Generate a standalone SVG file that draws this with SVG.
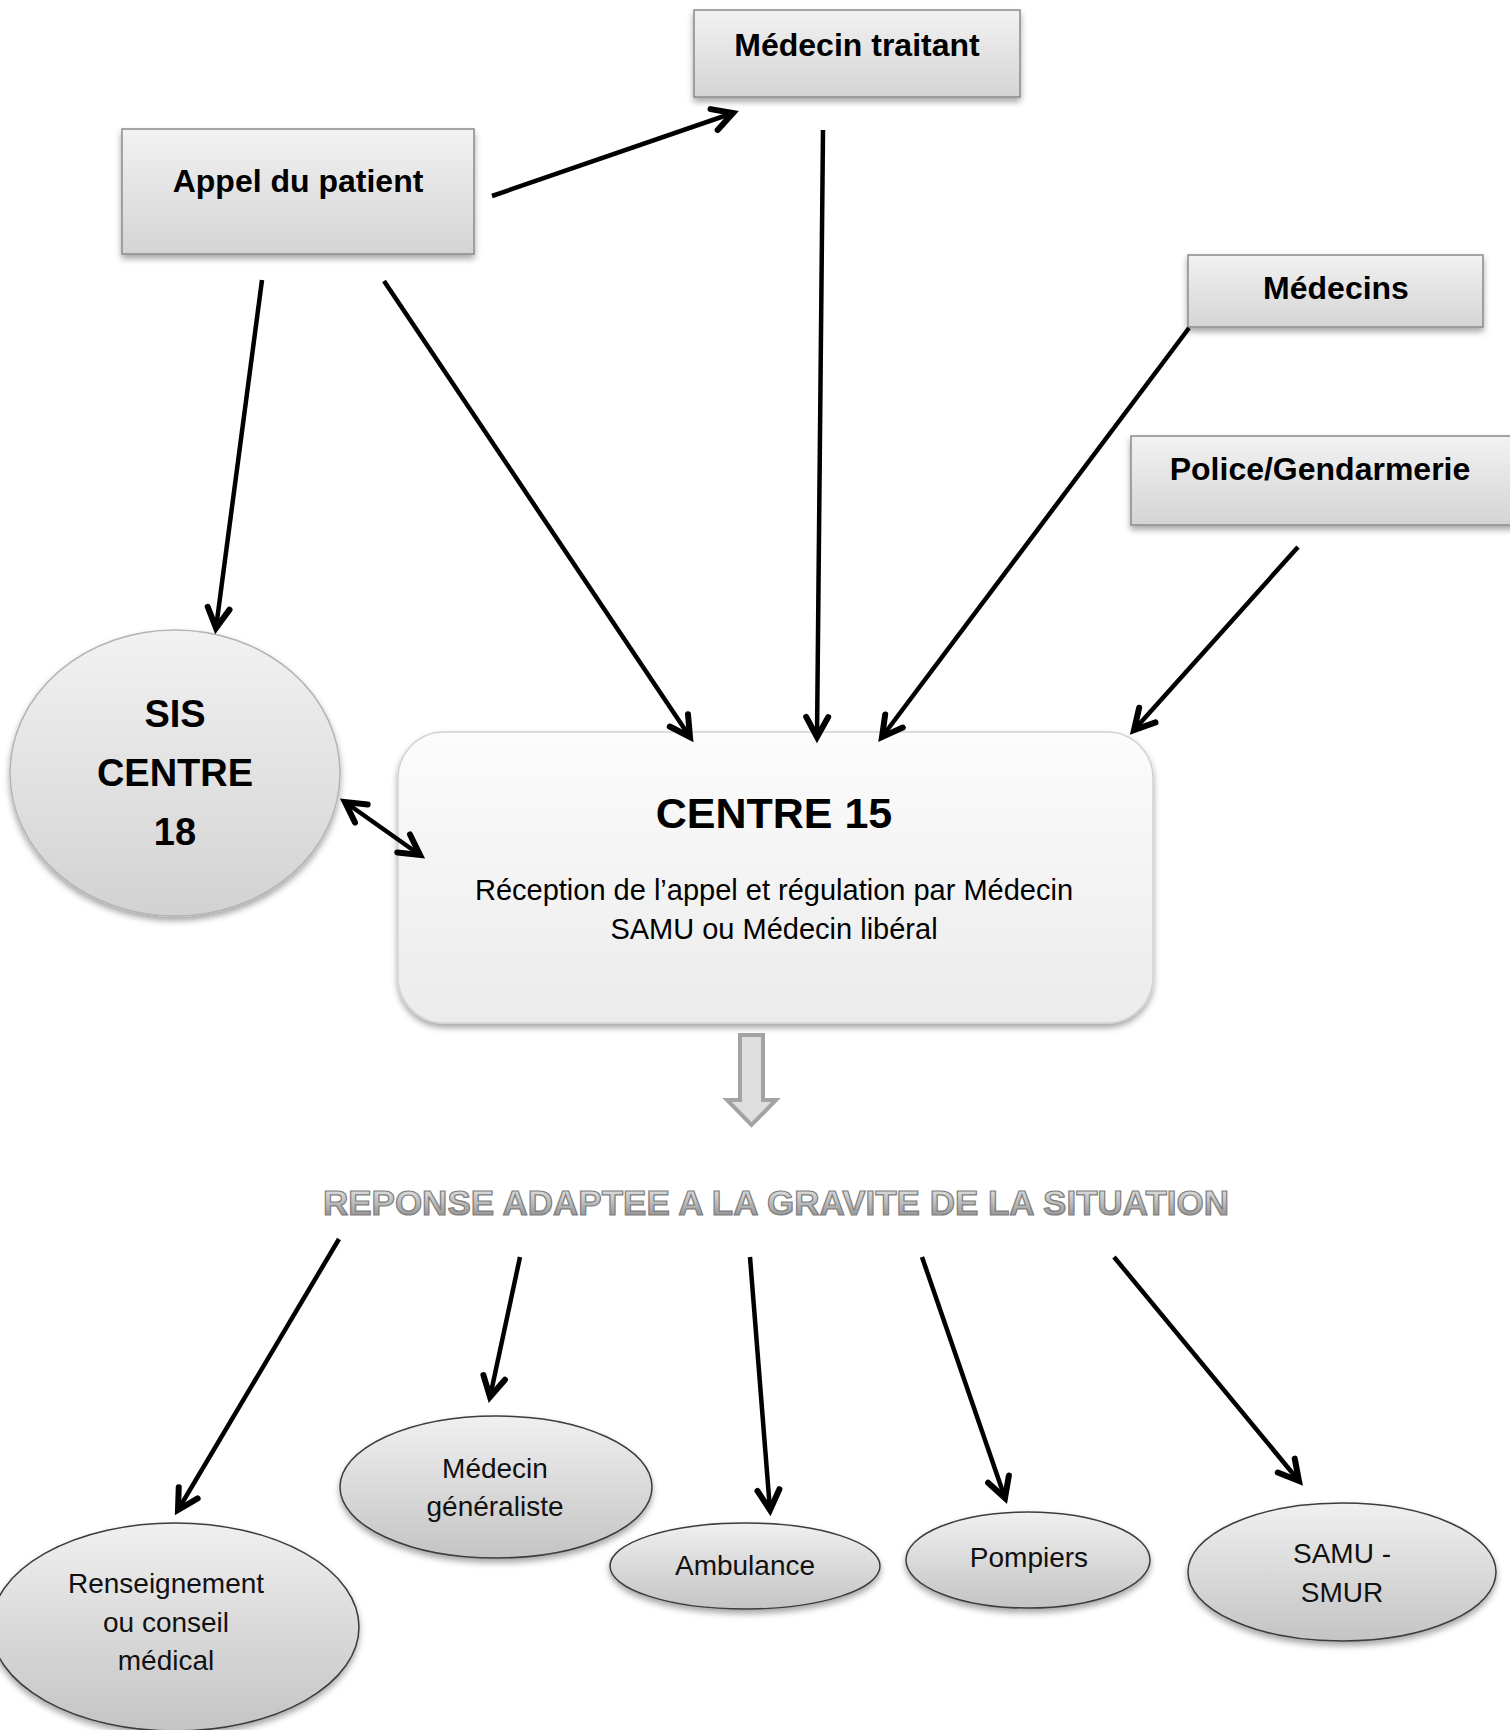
<svg xmlns="http://www.w3.org/2000/svg" width="1510" height="1730" viewBox="0 0 1510 1730">
<style>
.box{stroke:#8a8a8a;stroke-width:1.5;fill:url(#gBox);filter:url(#sh)}
.ell{stroke:#3c3c3c;stroke-width:1.5;fill:url(#gEll);filter:url(#sh)}
.bt{font-family:"Liberation Sans",Arial,sans-serif;font-weight:bold;font-size:32px;fill:#000;text-anchor:middle}
.rt{font-family:"Liberation Sans",Arial,sans-serif;font-size:28px;fill:#111;text-anchor:middle}
.conn line{stroke:#000;stroke-width:4.5;marker-end:url(#ah)}
</style>
<defs>
<linearGradient id="gBox" x1="0" y1="0" x2="0" y2="1"><stop offset="0" stop-color="#f2f2f2"/><stop offset="1" stop-color="#d4d4d4"/></linearGradient>
<linearGradient id="gEll" x1="0" y1="0" x2="0" y2="1"><stop offset="0" stop-color="#f0f0f0"/><stop offset="1" stop-color="#c4c4c4"/></linearGradient>
<linearGradient id="gSis" x1="0" y1="0" x2="0" y2="1"><stop offset="0" stop-color="#f2f2f2"/><stop offset="1" stop-color="#d2d2d2"/></linearGradient>
<linearGradient id="gC15" x1="0" y1="0" x2="0" y2="1"><stop offset="0" stop-color="#fcfcfc"/><stop offset="1" stop-color="#ebebeb"/></linearGradient>
<linearGradient id="gTxt" x1="0" y1="0" x2="0" y2="1"><stop offset="0" stop-color="#eeeeee"/><stop offset="0.5" stop-color="#bdbdbd"/><stop offset="1" stop-color="#828282"/></linearGradient>
<filter id="sh" x="-10%" y="-10%" width="120%" height="130%"><feDropShadow dx="0" dy="4" stdDeviation="3" flood-color="#000" flood-opacity="0.35"/></filter>
<marker id="ah" markerUnits="userSpaceOnUse" markerWidth="40" markerHeight="40" viewBox="-30 -20 40 40" refX="0" refY="0" orient="auto-start-reverse"><path d="M-20,-11 L0,0 L-20,11" fill="none" stroke="#000" stroke-width="6" stroke-linejoin="miter" stroke-linecap="round"/></marker>
</defs>

<g id="medecin-traitant"><rect class="box" x="694" y="10" width="326" height="87"/><text class="bt" x="857" y="56">Médecin traitant</text></g>
<g id="appel-patient"><rect class="box" x="122" y="129" width="352" height="125"/><text class="bt" x="298" y="192">Appel du patient</text></g>
<g id="medecins"><rect class="box" x="1188" y="255" width="295" height="72"/><text class="bt" x="1336" y="299">Médecins</text></g>
<g id="police"><rect class="box" x="1131" y="436" width="384" height="89"/><text class="bt" x="1320" y="480">Police/Gendarmerie</text></g>

<g id="sis-centre-18"><ellipse cx="175" cy="773" rx="165" ry="143" fill="url(#gSis)" stroke="#b4b4b4" stroke-width="1.5" filter="url(#sh)"/>
<text class="bt" style="font-size:38px" x="175" y="727">SIS</text><text class="bt" style="font-size:38px" x="175" y="786">CENTRE</text><text class="bt" style="font-size:38px" x="175" y="845">18</text></g>

<g id="centre-15"><rect x="398" y="732" width="755" height="291" rx="46" ry="46" fill="url(#gC15)" stroke="#d2d2d2" stroke-width="1.5" filter="url(#sh)"/>
<text class="bt" style="font-size:43px" x="774" y="828">CENTRE 15</text>
<text class="rt" style="font-size:29px;fill:#000" x="774" y="900">Réception de l’appel et régulation par Médecin</text>
<text class="rt" style="font-size:29px;fill:#000" x="774" y="939">SAMU ou Médecin libéral</text></g>

<g id="block-arrow"><path d="M740,1035 L763,1035 L763,1100 L776,1100 L751.5,1125 L727,1100 L740,1100 Z" fill="#dedede" stroke="#a3a3a3" stroke-width="4" stroke-linejoin="miter"/></g>

<g id="reponse"><text x="776" y="1215" text-anchor="middle" font-family="Liberation Sans, Arial, sans-serif" font-weight="bold" font-size="35" fill="url(#gTxt)" stroke="#7e7e7e" stroke-width="1.2">REPONSE ADAPTEE A LA GRAVITE DE LA SITUATION</text></g>

<g id="renseignement"><ellipse class="ell" cx="175" cy="1627" rx="184" ry="104"/><text class="rt" x="166" y="1593">Renseignement</text><text class="rt" x="166" y="1632">ou conseil</text><text class="rt" x="166" y="1670">médical</text></g>
<g id="medecin-generaliste"><ellipse class="ell" cx="496" cy="1487" rx="156" ry="71"/><text class="rt" x="495" y="1478">Médecin</text><text class="rt" x="495" y="1516">généraliste</text></g>
<g id="ambulance"><ellipse class="ell" cx="745" cy="1566" rx="135" ry="43"/><text class="rt" x="745" y="1575">Ambulance</text></g>
<g id="pompiers"><ellipse class="ell" cx="1028" cy="1560" rx="122" ry="48"/><text class="rt" x="1029" y="1567">Pompiers</text></g>
<g id="samu-smur"><ellipse class="ell" cx="1342" cy="1572" rx="154" ry="69"/><text class="rt" x="1342" y="1563">SAMU -</text><text class="rt" x="1342" y="1602">SMUR</text></g>

<g id="connectors" class="conn">
<line x1="492" y1="196" x2="733" y2="113"/>
<line x1="262" y1="280" x2="216" y2="628"/>
<line x1="384" y1="281" x2="690" y2="737"/>
<line x1="823" y1="130" x2="817" y2="737"/>
<line x1="1189" y1="328" x2="882" y2="737"/>
<line x1="1298" y1="547" x2="1134" y2="730"/>
<line x1="345" y1="802" x2="420" y2="855" style="marker-start:url(#ah)"/>
<line x1="339" y1="1239" x2="178" y2="1510"/>
<line x1="520" y1="1257" x2="490" y2="1397"/>
<line x1="750" y1="1257" x2="770" y2="1510"/>
<line x1="922" y1="1257" x2="1005" y2="1498"/>
<line x1="1114" y1="1257" x2="1299" y2="1481"/>
</g>
</svg>
